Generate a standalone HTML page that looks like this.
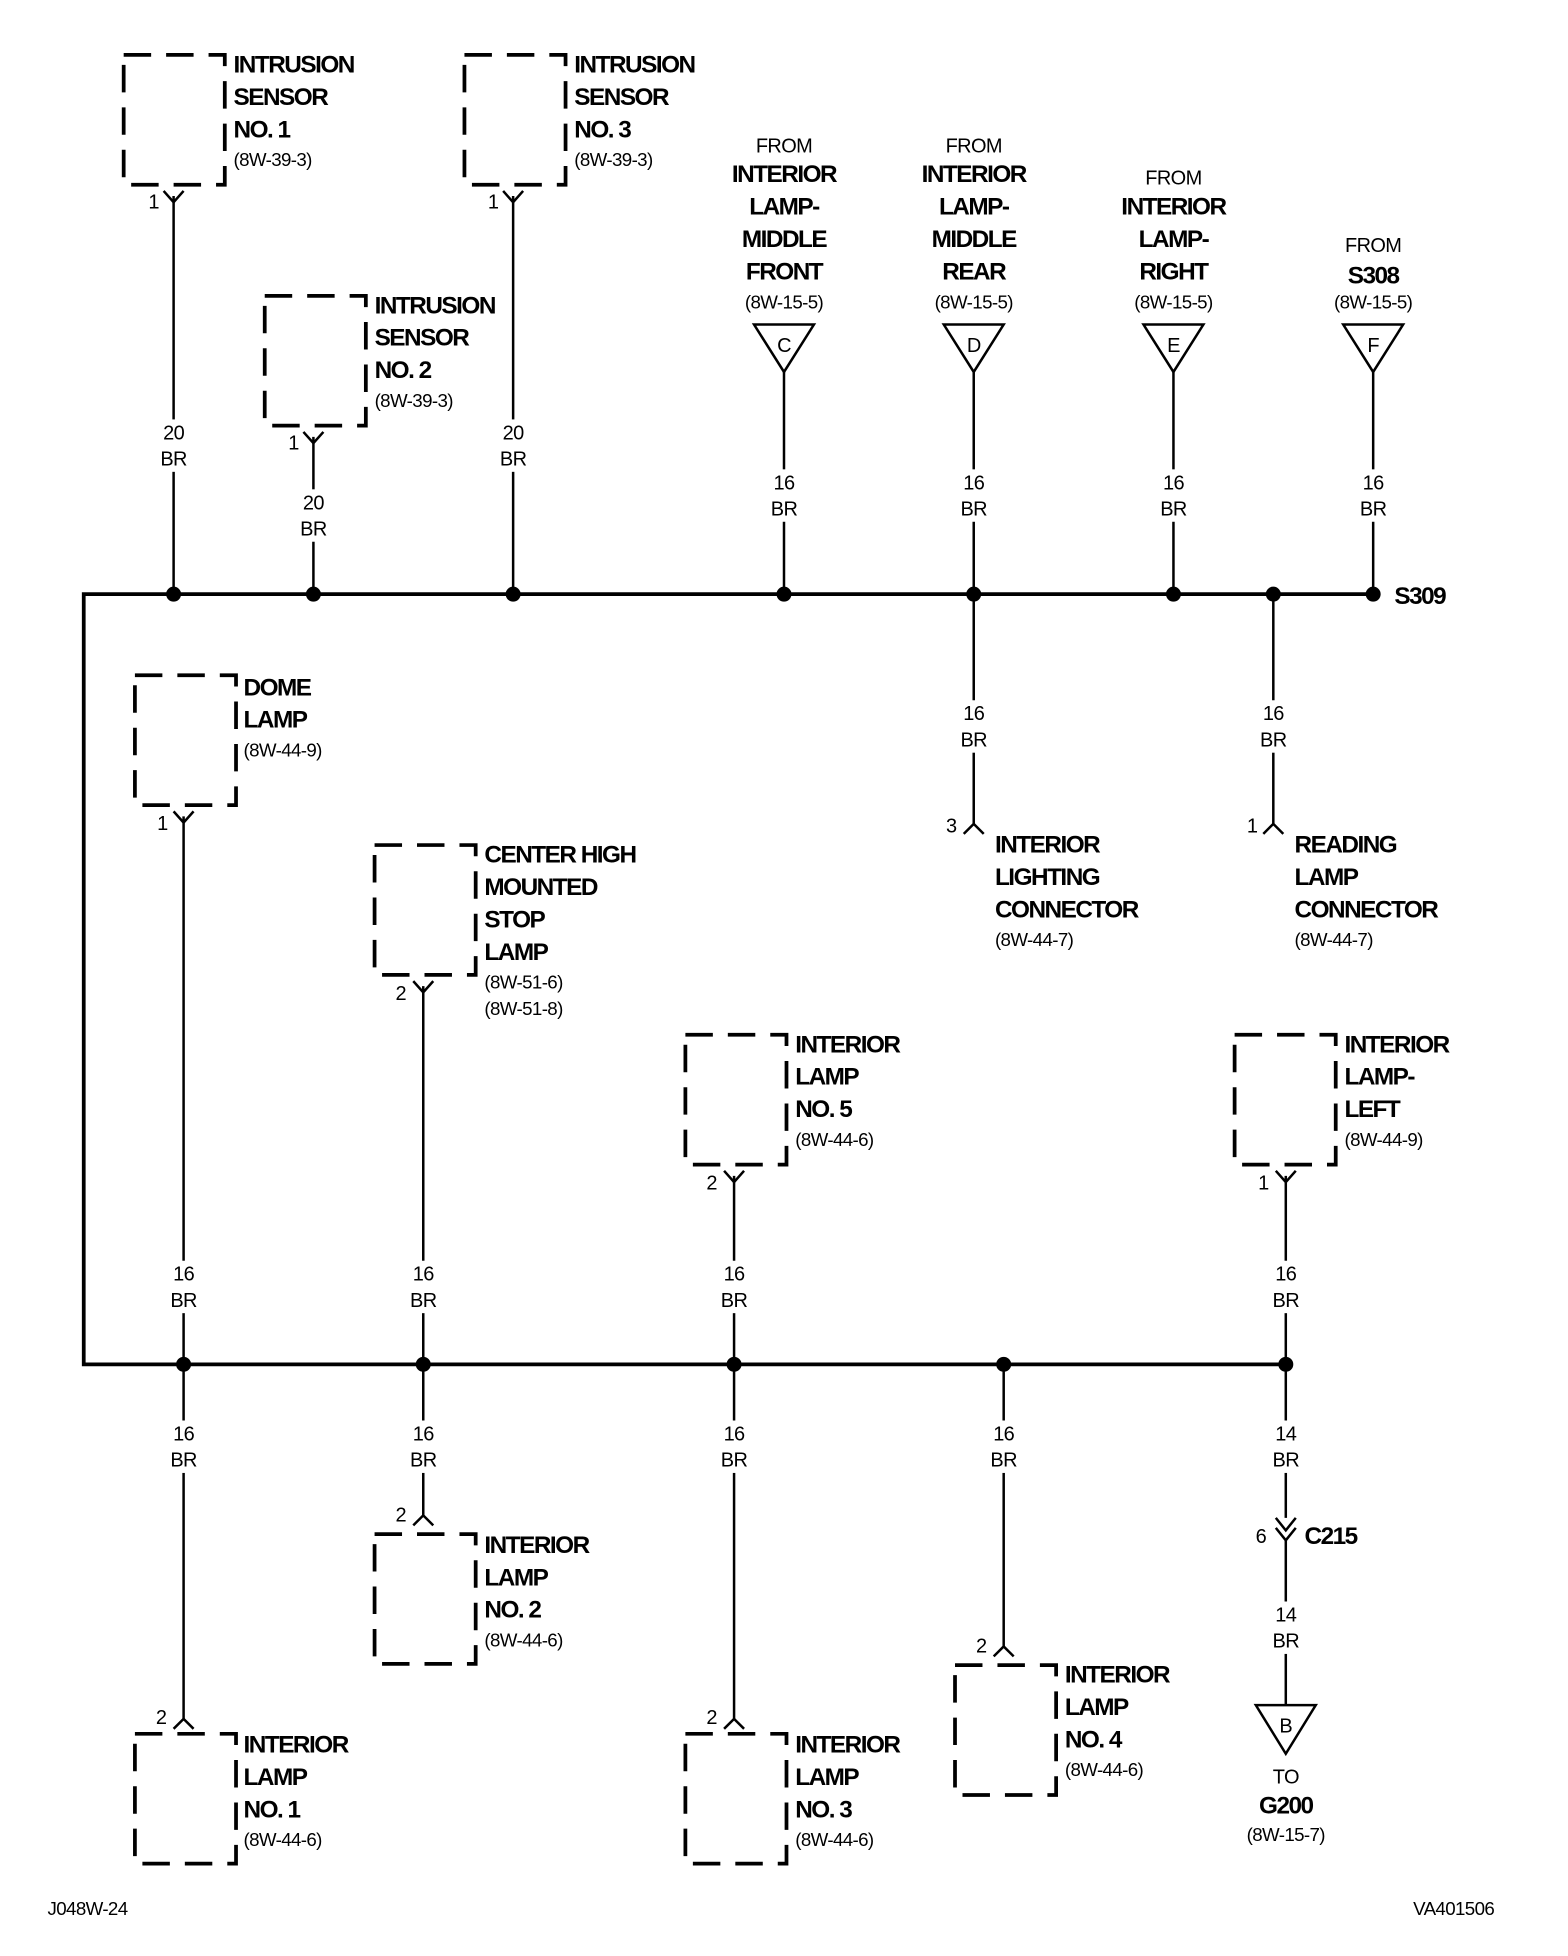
<!DOCTYPE html>
<html><head><meta charset="utf-8"><style>
html,body{margin:0;padding:0;background:#fff}
svg{display:block}
.b{font-family:"Liberation Sans",sans-serif;font-weight:bold;font-size:19.5px;letter-spacing:-1.2px}
.s{font-family:"Liberation Sans",sans-serif;font-size:15px;letter-spacing:-0.5px}
.w{font-family:"Liberation Sans",sans-serif;font-size:16px;text-anchor:middle;letter-spacing:-0.5px}
.c{text-anchor:middle}
.box{fill:none;stroke:#000;stroke-width:3;stroke-dasharray:22,12}
</style></head><body>
<svg width="1568" height="1956" viewBox="0 0 1256 1567" xmlns="http://www.w3.org/2000/svg">
<g stroke="#000" stroke-width="2" fill="none">
<polyline points="1100,476 67,476 67,1093 1030,1093" stroke-width="3"/>
<line x1="139" y1="157" x2="139" y2="476"/>
<line x1="411" y1="157" x2="411" y2="476"/>
<line x1="251" y1="350" x2="251" y2="476"/>
<line x1="628" y1="298" x2="628" y2="476"/>
<line x1="780" y1="298" x2="780" y2="476"/>
<line x1="940" y1="298" x2="940" y2="476"/>
<line x1="1100" y1="298" x2="1100" y2="476"/>
<line x1="780" y1="476" x2="780" y2="660"/>
<line x1="1020" y1="476" x2="1020" y2="660"/>
<line x1="147" y1="654" x2="147" y2="1093"/>
<line x1="339" y1="790" x2="339" y2="1093"/>
<line x1="588" y1="942" x2="588" y2="1093"/>
<line x1="1030" y1="942" x2="1030" y2="1093"/>
<line x1="147" y1="1093" x2="147" y2="1377"/>
<line x1="339" y1="1093" x2="339" y2="1214"/>
<line x1="588" y1="1093" x2="588" y2="1377"/>
<line x1="804" y1="1093" x2="804" y2="1319"/>
<line x1="1030" y1="1093" x2="1030" y2="1216"/>
<line x1="1030" y1="1234" x2="1030" y2="1366"/>
<polyline points="131,153 139,162 147,153"/>
<polyline points="403,153 411,162 419,153"/>
<polyline points="243,346 251,355 259,346"/>
<polyline points="139,650 147,659 155,650"/>
<polyline points="331,786 339,795 347,786"/>
<polyline points="580,938 588,947 596,938"/>
<polyline points="1022,938 1030,947 1038,938"/>
<polyline points="772,668 780,660 788,668"/>
<polyline points="1012,668 1020,660 1028,668"/>
<polyline points="139,1385 147,1377 155,1385"/>
<polyline points="331,1222 339,1214 347,1222"/>
<polyline points="580,1385 588,1377 596,1385"/>
<polyline points="796,1327 804,1319 812,1327"/>
<polyline points="1022,1216 1030,1226 1038,1216"/>
<polyline points="1022,1224 1030,1234 1038,1224"/>
<polygon points="604,260 652,260 628,298"/>
<polygon points="756,260 804,260 780,298"/>
<polygon points="916,260 964,260 940,298"/>
<polygon points="1076,260 1124,260 1100,298"/>
<polygon points="1006,1366 1054,1366 1030,1405"/>
</g>
<rect class="box" x="99" y="44" width="81" height="104"/>
<rect class="box" x="372" y="44" width="81" height="104"/>
<rect class="box" x="212" y="237" width="81" height="104"/>
<rect class="box" x="108" y="541" width="81" height="104"/>
<rect class="box" x="300" y="677" width="81" height="104"/>
<rect class="box" x="549" y="829" width="81" height="104"/>
<rect class="box" x="989" y="829" width="81" height="104"/>
<rect class="box" x="300" y="1229" width="81" height="104"/>
<rect class="box" x="108" y="1389" width="81" height="104"/>
<rect class="box" x="549" y="1389" width="81" height="104"/>
<rect class="box" x="765" y="1334" width="81" height="104"/>
<g fill="#000">
<circle cx="139" cy="476" r="6"/><circle cx="251" cy="476" r="6"/><circle cx="411" cy="476" r="6"/>
<circle cx="628" cy="476" r="6"/><circle cx="780" cy="476" r="6"/><circle cx="940" cy="476" r="6"/>
<circle cx="1020" cy="476" r="6"/><circle cx="1100" cy="476" r="6"/>
<circle cx="147" cy="1093" r="6"/><circle cx="339" cy="1093" r="6"/><circle cx="588" cy="1093" r="6"/>
<circle cx="804" cy="1093" r="6"/><circle cx="1030" cy="1093" r="6"/>
</g>
<!-- white gaps behind wire labels -->
<g fill="#fff">
<rect x="125" y="336" width="28" height="42"/><rect x="397" y="336" width="28" height="42"/><rect x="237" y="392" width="28" height="42"/>
<rect x="614" y="376" width="28" height="42"/><rect x="766" y="376" width="28" height="42"/><rect x="926" y="376" width="28" height="42"/><rect x="1086" y="376" width="28" height="42"/>
<rect x="766" y="561" width="28" height="42"/><rect x="1006" y="561" width="28" height="42"/>
<rect x="133" y="1010" width="28" height="42"/><rect x="325" y="1010" width="28" height="42"/><rect x="574" y="1010" width="28" height="42"/><rect x="1016" y="1010" width="28" height="42"/>
<rect x="133" y="1138" width="28" height="42"/><rect x="325" y="1138" width="28" height="42"/><rect x="574" y="1138" width="28" height="42"/><rect x="790" y="1138" width="28" height="42"/><rect x="1016" y="1138" width="28" height="42"/>
<rect x="1016" y="1283" width="28" height="42"/>
</g>
<g class="w">
<text x="139" y="352">20</text><text x="139" y="373">BR</text>
<text x="411" y="352">20</text><text x="411" y="373">BR</text>
<text x="251" y="408">20</text><text x="251" y="429">BR</text>
<text x="628" y="392">16</text><text x="628" y="413">BR</text>
<text x="780" y="392">16</text><text x="780" y="413">BR</text>
<text x="940" y="392">16</text><text x="940" y="413">BR</text>
<text x="1100" y="392">16</text><text x="1100" y="413">BR</text>
<text x="780" y="577">16</text><text x="780" y="598">BR</text>
<text x="1020" y="577">16</text><text x="1020" y="598">BR</text>
<text x="147" y="1026">16</text><text x="147" y="1047">BR</text>
<text x="339" y="1026">16</text><text x="339" y="1047">BR</text>
<text x="588" y="1026">16</text><text x="588" y="1047">BR</text>
<text x="1030" y="1026">16</text><text x="1030" y="1047">BR</text>
<text x="147" y="1154">16</text><text x="147" y="1175">BR</text>
<text x="339" y="1154">16</text><text x="339" y="1175">BR</text>
<text x="588" y="1154">16</text><text x="588" y="1175">BR</text>
<text x="804" y="1154">16</text><text x="804" y="1175">BR</text>
<text x="1030" y="1154">14</text><text x="1030" y="1175">BR</text>
<text x="1030" y="1299">14</text><text x="1030" y="1320">BR</text>
<text x="123" y="167">1</text><text x="395" y="167">1</text><text x="235" y="360">1</text>
<text x="762" y="667">3</text><text x="1003" y="667">1</text>
<text x="130" y="665">1</text><text x="321" y="801">2</text><text x="570" y="953">2</text><text x="1012" y="953">1</text>
<text x="129" y="1381">2</text><text x="321" y="1219">2</text><text x="570" y="1381">2</text><text x="786" y="1324">2</text>
<text x="1010" y="1236">6</text>
<text x="628" y="122">FROM</text><text x="780" y="122">FROM</text><text x="940" y="148">FROM</text><text x="1100" y="202">FROM</text>
<text x="1030" y="1429">TO</text>
<text x="628" y="282">C</text><text x="780" y="282">D</text><text x="940" y="282">E</text><text x="1100" y="282">F</text>
<text x="1030" y="1388">B</text>
</g>
<g class="b">
<text x="187" y="58">INTRUSION</text><text x="187" y="84">SENSOR</text><text x="187" y="110">NO. 1</text>
<text x="460" y="58">INTRUSION</text><text x="460" y="84">SENSOR</text><text x="460" y="110">NO. 3</text>
<text x="300" y="251">INTRUSION</text><text x="300" y="277">SENSOR</text><text x="300" y="303">NO. 2</text>
<g class="c">
<text x="628" y="146">INTERIOR</text><text x="628" y="172">LAMP-</text><text x="628" y="198">MIDDLE</text><text x="628" y="224">FRONT</text>
<text x="780" y="146">INTERIOR</text><text x="780" y="172">LAMP-</text><text x="780" y="198">MIDDLE</text><text x="780" y="224">REAR</text>
<text x="940" y="172">INTERIOR</text><text x="940" y="198">LAMP-</text><text x="940" y="224">RIGHT</text>
<text x="1100" y="227">S308</text>
<text x="1030" y="1453">G200</text>
</g>
<text x="1117" y="484">S309</text>
<text x="797" y="683">INTERIOR</text><text x="797" y="709">LIGHTING</text><text x="797" y="735">CONNECTOR</text>
<text x="1037" y="683">READING</text><text x="1037" y="709">LAMP</text><text x="1037" y="735">CONNECTOR</text>
<text x="195" y="557">DOME</text><text x="195" y="583">LAMP</text>
<text x="388" y="691">CENTER HIGH</text><text x="388" y="717">MOUNTED</text><text x="388" y="743">STOP</text><text x="388" y="769">LAMP</text>
<text x="637" y="843">INTERIOR</text><text x="637" y="869">LAMP</text><text x="637" y="895">NO. 5</text>
<text x="1077" y="843">INTERIOR</text><text x="1077" y="869">LAMP-</text><text x="1077" y="895">LEFT</text>
<text x="388" y="1244">INTERIOR</text><text x="388" y="1270">LAMP</text><text x="388" y="1296">NO. 2</text>
<text x="195" y="1404">INTERIOR</text><text x="195" y="1430">LAMP</text><text x="195" y="1456">NO. 1</text>
<text x="637" y="1404">INTERIOR</text><text x="637" y="1430">LAMP</text><text x="637" y="1456">NO. 3</text>
<text x="853" y="1348">INTERIOR</text><text x="853" y="1374">LAMP</text><text x="853" y="1400">NO. 4</text>
<text x="1045" y="1237">C215</text>
</g>
<g class="s">
<text x="187" y="133">(8W-39-3)</text><text x="460" y="133">(8W-39-3)</text><text x="300" y="326">(8W-39-3)</text>
<g class="c"><text x="628" y="247">(8W-15-5)</text><text x="780" y="247">(8W-15-5)</text><text x="940" y="247">(8W-15-5)</text><text x="1100" y="247">(8W-15-5)</text><text x="1030" y="1475">(8W-15-7)</text></g>
<text x="797" y="758">(8W-44-7)</text><text x="1037" y="758">(8W-44-7)</text>
<text x="195" y="606">(8W-44-9)</text>
<text x="388" y="792">(8W-51-6)</text><text x="388" y="813">(8W-51-8)</text>
<text x="637" y="918">(8W-44-6)</text><text x="1077" y="918">(8W-44-9)</text>
<text x="388" y="1319">(8W-44-6)</text><text x="195" y="1479">(8W-44-6)</text><text x="637" y="1479">(8W-44-6)</text><text x="853" y="1423">(8W-44-6)</text>
<text x="38" y="1534">J048W-24</text><text x="1132" y="1534">VA401506</text>
</g>
</svg>
</body></html>
